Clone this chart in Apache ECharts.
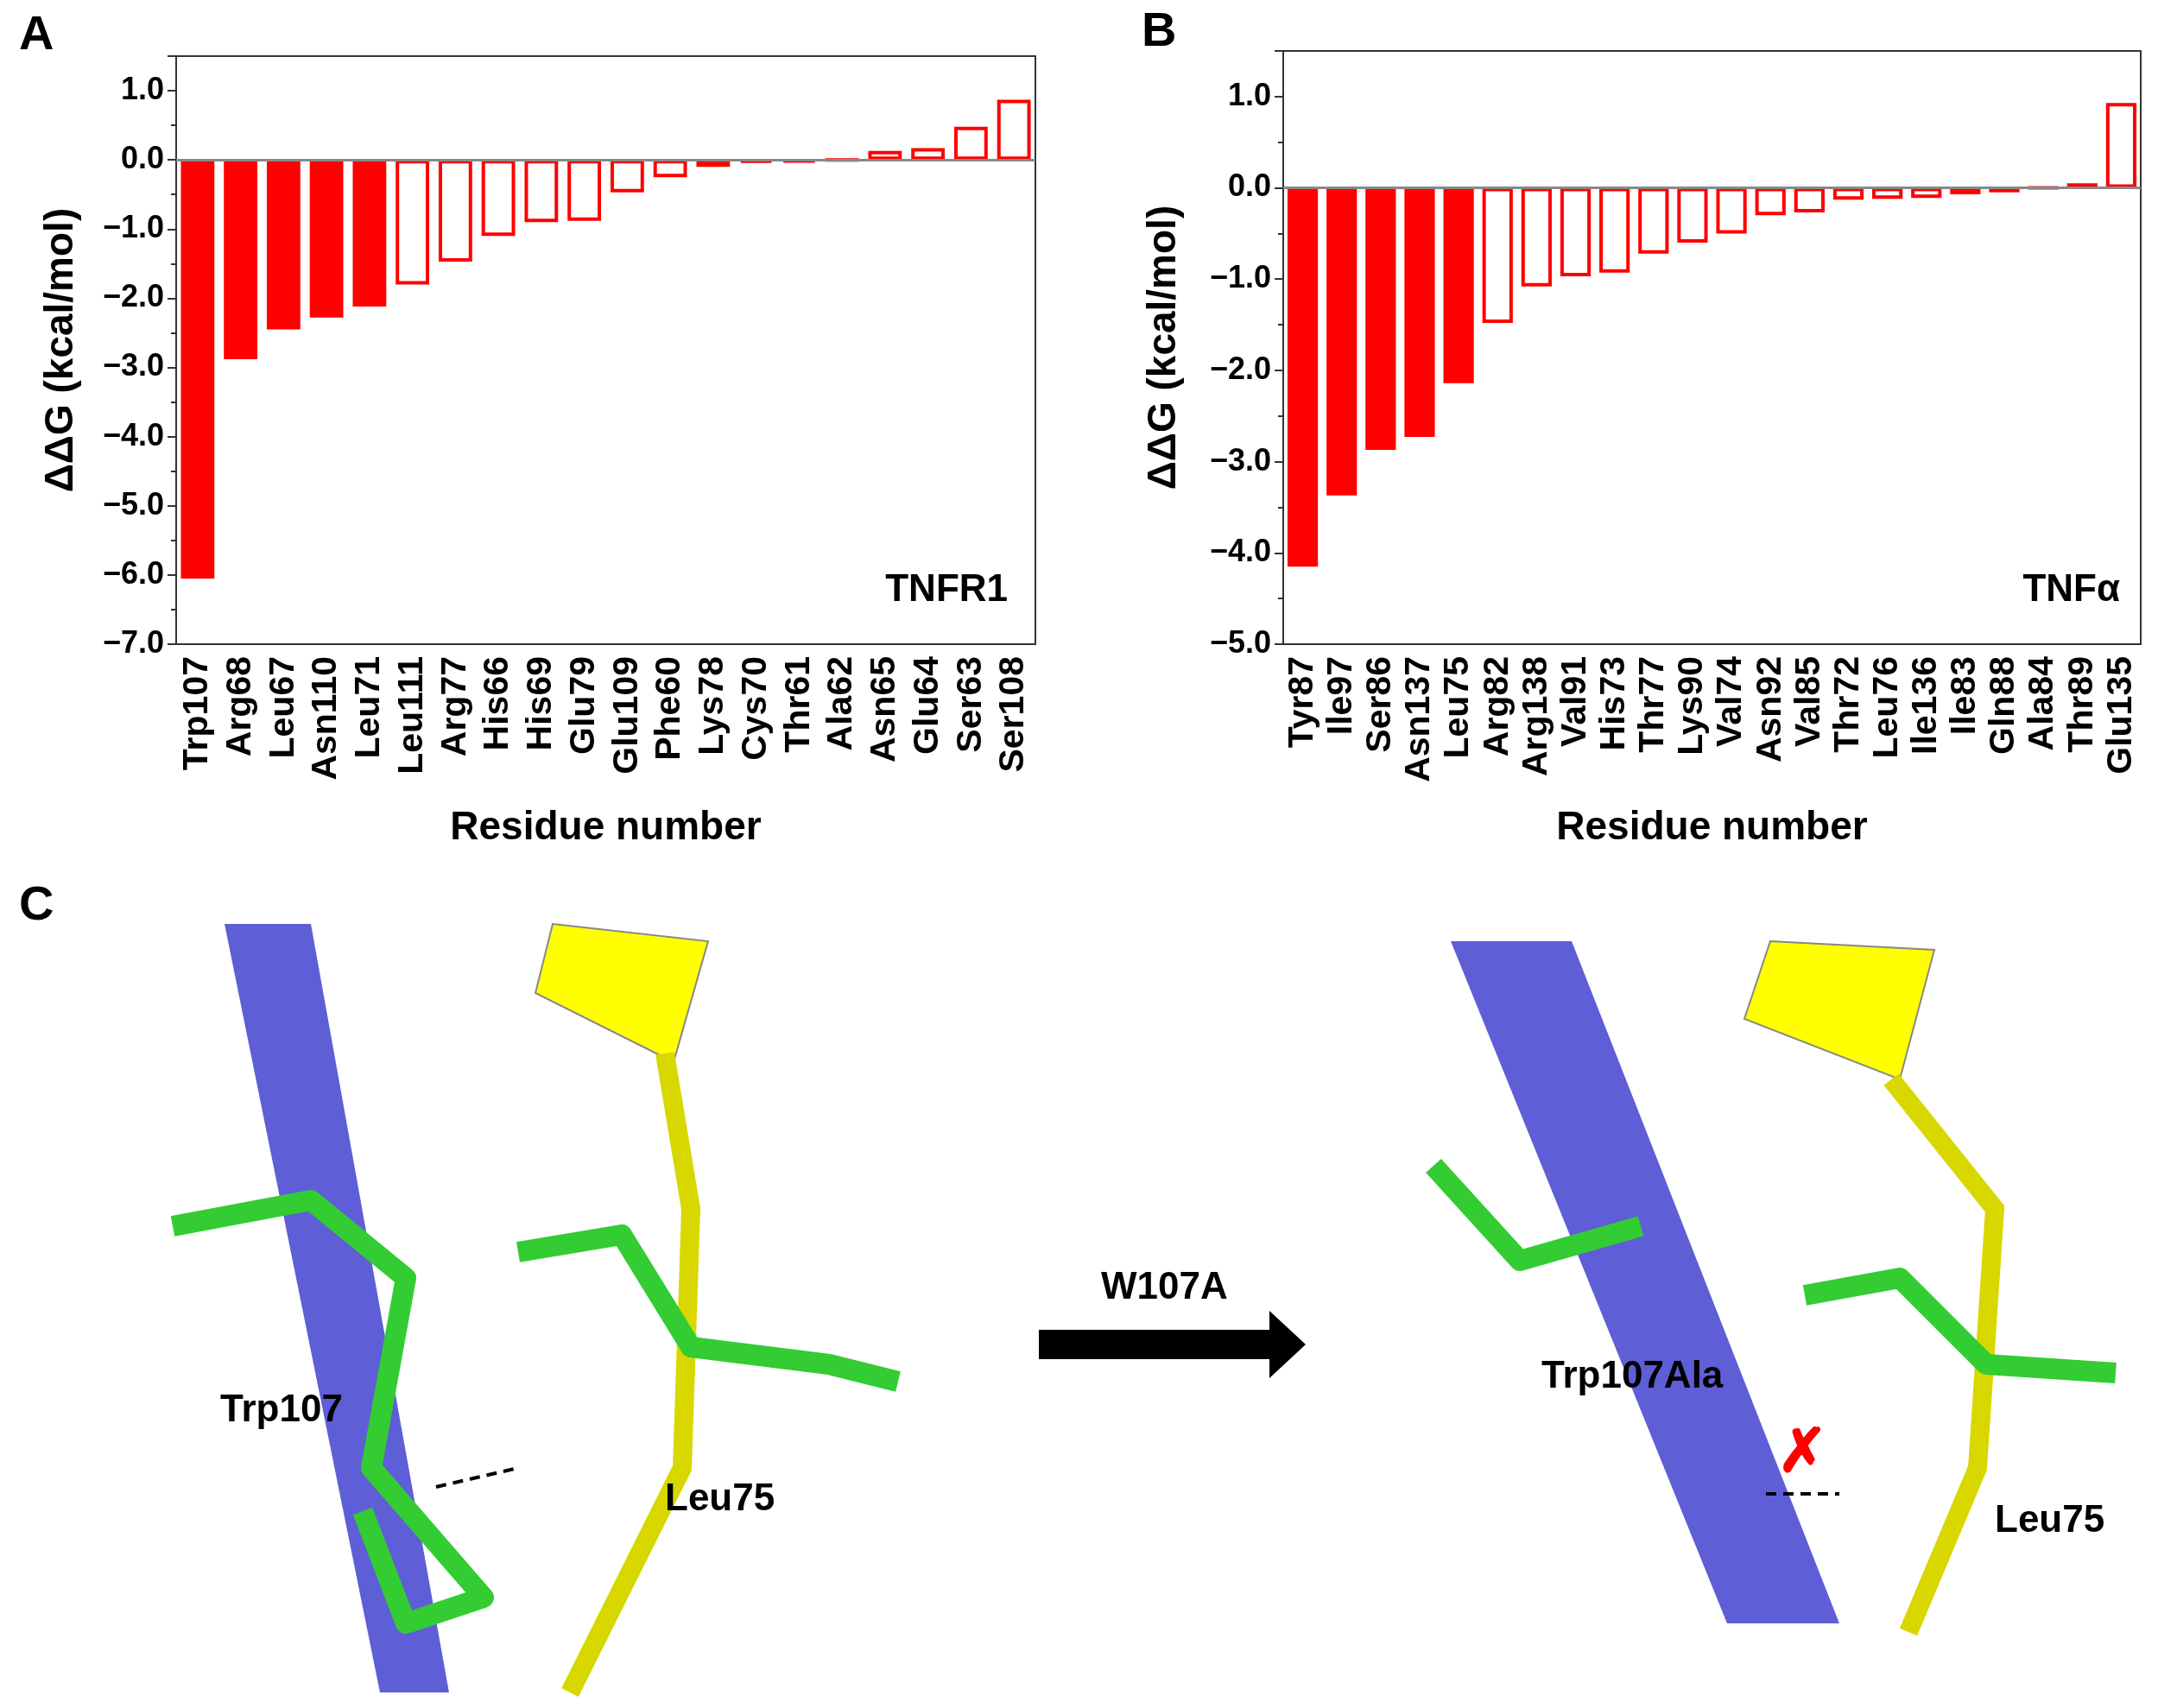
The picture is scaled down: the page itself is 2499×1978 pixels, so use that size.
<!DOCTYPE html>
<html><head><meta charset="utf-8">
<script src="https://cdn.jsdelivr.net/npm/echarts@6/dist/echarts.min.js"></script>
<style>html,body{margin:0;padding:0;background:#fff}#c{width:2499px;height:1978px}</style>
</head><body><div id="c"></div>
<script>
const catsA = ['Trp107','Arg68','Leu67','Asn110','Leu71','Leu111','Arg77','His66','His69','Glu79','Glu109','Phe60','Lys78','Cys70','Thr61','Ala62','Asn65','Glu64','Ser63','Ser108'];
const valsA = [-6.05,-2.88,-2.45,-2.28,-2.12,-1.8,-1.47,-1.1,-0.9,-0.88,-0.47,-0.25,-0.1,-0.04,-0.03,0,0.13,0.17,0.48,0.87];
const filledA = 5;
const catsB = ['Tyr87','Ile97','Ser86','Asn137','Leu75','Arg82','Arg138','Val91','His73','Thr77','Lys90','Val74','Asn92','Val85','Thr72','Leu76','Ile136','Ile83','Gln88','Ala84','Thr89','Glu135'];
const valsB = [-4.15,-3.37,-2.87,-2.73,-2.14,-1.48,-1.08,-0.97,-0.93,-0.72,-0.6,-0.5,-0.3,-0.27,-0.13,-0.12,-0.11,-0.07,-0.05,0,0.05,0.93];
const filledB = 5;
const yTitle = 'ΔΔG (kcal/mol)';
const xTitle = 'Residue number';

const F = 'Arial, Liberation Sans, sans-serif';
function items(vals, nf){
  return vals.map((v,i)=> i<nf ? {value:v,itemStyle:{color:'#ff0000'}} :
    {value:v,itemStyle:{color:'#ffffff',borderColor:'#ff0000',borderWidth:4}});
}
function xAx(cats, gi){
  return [{type:'category',gridIndex:gi,data:cats,position:'bottom',
    axisLine:{onZero:false,lineStyle:{color:'#333',width:2}},
    axisTick:{alignWithLabel:true,length:10,lineStyle:{color:'#333',width:2}},
    axisLabel:{rotate:90,interval:0,fontFamily:F,fontWeight:'bold',fontSize:41,color:'#000',margin:14},
    name:xTitle,nameLocation:'middle',nameGap:190,nameTextStyle:{fontFamily:F,fontWeight:'bold',fontSize:46,color:'#000'}},
   {type:'category',gridIndex:gi,data:cats,position:'top',axisLine:{onZero:false,lineStyle:{color:'#333',width:2}},axisTick:{show:false},axisLabel:{show:false}}];
}
function yAx(gi,min,gap){
  return [{type:'value',gridIndex:gi,min:min,max:1.5,interval:1,
    axisLine:{show:true,lineStyle:{color:'#333',width:2}},
    axisTick:{show:true,length:10,lineStyle:{color:'#333',width:2}},
    minorTick:{show:true,splitNumber:2,length:6,lineStyle:{color:'#333',width:2}},
    splitLine:{show:false},
    axisLabel:{fontFamily:F,fontWeight:'bold',fontSize:36,color:'#000',margin:14,
      formatter:v=> (Math.abs(v-1.5)<1e-6)?'':(v<0?'−'+Math.abs(v).toFixed(1):v.toFixed(1))},
    name:yTitle,nameLocation:'middle',nameGap:gap,nameTextStyle:{fontFamily:F,fontWeight:'bold',fontSize:46,color:'#000'}},
   {type:'value',gridIndex:gi,min:min,max:1.5,position:'right',axisLine:{show:true,lineStyle:{color:'#333',width:2}},axisTick:{show:false},axisLabel:{show:false},splitLine:{show:false}}];
}
const xa = xAx(catsA,0), xb = xAx(catsB,1), ya = yAx(0,-7,110), yb = yAx(1,-5,115);
const zeroLine = {silent:true,symbol:'none',label:{show:false},lineStyle:{color:'#888',width:3,type:'solid'},data:[{yAxis:0}]};
const chart = echarts.init(document.getElementById('c'));
const t = (x,y,s,size,extra)=>Object.assign({type:'text',left:x,top:y,style:{text:s,font:'bold '+size+'px '+F,fill:'#000'}},extra||{});
chart.setOption({
  animation:false,
  grid:[{left:204,right:1300,top:65,bottom:1232},{left:1486,right:20,top:59,bottom:1232}],
  xAxis:[xa[0],xa[1],xb[0],xb[1]],
  yAxis:[ya[0],ya[1],yb[0],yb[1]],
  series:[
    {type:'bar',xAxisIndex:0,yAxisIndex:0,data:items(valsA,filledA),barWidth:'78%',markLine:zeroLine},
    {type:'bar',xAxisIndex:2,yAxisIndex:2,data:items(valsB,filledB),barWidth:'78%',markLine:zeroLine}
  ],
  graphic:[
    t(22,14,'A',56), t(1322,10,'B',56), t(22,1022,'C',56),
    {type:'text',right:2499-1167,top:662,style:{text:'TNFR1',font:'bold 44px '+F,fill:'#000',textAlign:'right'}},
    {type:'text',right:2499-2455,top:662,style:{text:'TNFα',font:'bold 44px '+F,fill:'#000',textAlign:'right'}},
    {type:'polygon',shape:{points:[[260,1070],[360,1070],[520,1960],[440,1960]]},style:{fill:'rgba(40,40,200,0.75)'}},
    {type:'polygon',shape:{points:[[640,1070],[820,1090],[780,1230],[620,1150]]},style:{fill:'#ffff00',stroke:'#888',lineWidth:2}},
    {type:'polyline',shape:{points:[[770,1220],[800,1400],[790,1700],[660,1960]]},style:{stroke:'#d8d800',lineWidth:22,fill:'none'}},
    {type:'polyline',shape:{points:[[200,1420],[360,1390],[470,1480],[430,1700],[560,1850],[470,1880],[420,1750]]},style:{stroke:'#33cc33',lineWidth:24,fill:'none',lineJoin:'round'}},
    {type:'polyline',shape:{points:[[600,1450],[720,1430],[800,1560],[960,1580],[1040,1600]]},style:{stroke:'#33cc33',lineWidth:24,fill:'none',lineJoin:'round'}},
    {type:'polyline',shape:{points:[[505,1722],[600,1700]]},style:{stroke:'#000',lineWidth:4,lineDash:[12,8]}},
    {type:'polygon',shape:{points:[[1680,1090],[1820,1090],[2130,1880],[2000,1880]]},style:{fill:'rgba(40,40,200,0.75)'}},
    {type:'polygon',shape:{points:[[2050,1090],[2240,1100],[2200,1250],[2020,1180]]},style:{fill:'#ffff00',stroke:'#888',lineWidth:2}},
    {type:'polyline',shape:{points:[[2190,1250],[2310,1400],[2290,1700],[2210,1890]]},style:{stroke:'#d8d800',lineWidth:22,fill:'none'}},
    {type:'polyline',shape:{points:[[1660,1350],[1760,1460],[1900,1420]]},style:{stroke:'#33cc33',lineWidth:24,fill:'none',lineJoin:'round'}},
    {type:'polyline',shape:{points:[[2090,1500],[2200,1480],[2300,1580],[2450,1590]]},style:{stroke:'#33cc33',lineWidth:24,fill:'none',lineJoin:'round'}},
    {type:'polyline',shape:{points:[[2045,1730],[2130,1730]]},style:{stroke:'#000',lineWidth:4,lineDash:[12,8]}},
    t(2058,1650,'✗',70,{style:{text:'✗',font:'bold 70px '+F,fill:'#ff0000'}}),
    t(255,1612,'Trp107',44), t(770,1715,'Leu75',44), t(1785,1573,'Trp107Ala',44), t(2310,1740,'Leu75',44),
    t(1275,1470,'W107A',44),
    {type:'polygon',shape:{points:[[1203,1540],[1470,1540],[1470,1518],[1512,1557],[1470,1596],[1470,1574],[1203,1574]]},style:{fill:'#000'}}
  ]
});
</script></body></html>
